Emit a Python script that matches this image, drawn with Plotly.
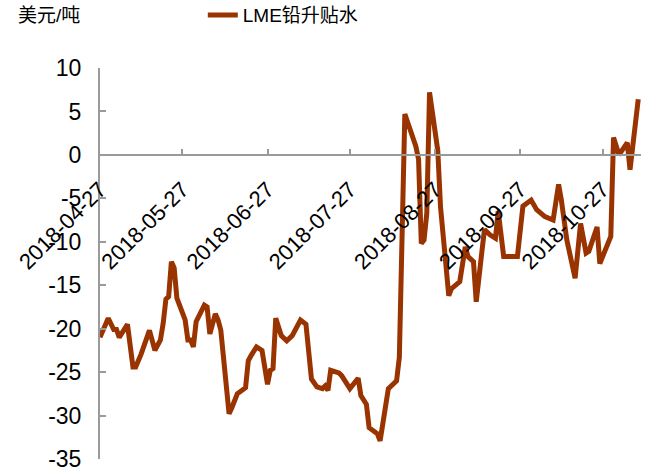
import plotly.graph_objects as go

dates = [
    "2018-04-27", "2018-04-30", "2018-05-02", "2018-05-03", "2018-05-04", "2018-05-07",
    "2018-05-09", "2018-05-10", "2018-05-12", "2018-05-15", "2018-05-17", "2018-05-19",
    "2018-05-20", "2018-05-21", "2018-05-22", "2018-05-23", "2018-05-24", "2018-05-25",
    "2018-05-28", "2018-05-29", "2018-05-30", "2018-05-31", "2018-06-01", "2018-06-04",
    "2018-06-05", "2018-06-06", "2018-06-08", "2018-06-09", "2018-06-10", "2018-06-12",
    "2018-06-13", "2018-06-14", "2018-06-16", "2018-06-19", "2018-06-20", "2018-06-21",
    "2018-06-23", "2018-06-25", "2018-06-27", "2018-06-28", "2018-06-29", "2018-06-30",
    "2018-07-02", "2018-07-04", "2018-07-06", "2018-07-09", "2018-07-11", "2018-07-13",
    "2018-07-15", "2018-07-17", "2018-07-18", "2018-07-19", "2018-07-20", "2018-07-23",
    "2018-07-24", "2018-07-27", "2018-07-30", "2018-07-31", "2018-08-02", "2018-08-03",
    "2018-08-06", "2018-08-07", "2018-08-10", "2018-08-13", "2018-08-14", "2018-08-16",
    "2018-08-18", "2018-08-20", "2018-08-21", "2018-08-22", "2018-08-23", "2018-08-24",
    "2018-08-25", "2018-08-28", "2018-08-29", "2018-08-30", "2018-09-01", "2018-09-02",
    "2018-09-05", "2018-09-07", "2018-09-08", "2018-09-10", "2018-09-11", "2018-09-13",
    "2018-09-14", "2018-09-16", "2018-09-18", "2018-09-19", "2018-09-21", "2018-09-26",
    "2018-09-28", "2018-10-01", "2018-10-03", "2018-10-06", "2018-10-09", "2018-10-11",
    "2018-10-12", "2018-10-14", "2018-10-17", "2018-10-19", "2018-10-21", "2018-10-22",
    "2018-10-25", "2018-10-26", "2018-10-30", "2018-10-31", "2018-11-02", "2018-11-05",
    "2018-11-06", "2018-11-09",
]

values = [
    -21.0, -18.8, -20.1, -20.1, -21.0, -19.5,
    -24.4, -24.4, -22.9, -20.2, -22.5, -21.3,
    -19.4, -16.6, -16.3, -12.3, -13.0, -16.5,
    -19.0, -21.3, -21.3, -22.1, -19.2, -17.3,
    -17.5, -20.6, -18.3, -19.0, -20.2, -27.1,
    -29.8, -29.1, -27.5, -26.8, -23.7, -23.1,
    -22.1, -22.5, -26.4, -24.8, -24.6, -18.8,
    -20.8, -21.4, -20.8, -19.0, -19.5, -25.8,
    -26.7, -26.9, -26.6, -27.1, -24.8, -25.1,
    -25.4, -26.9, -25.7, -27.7, -28.7, -31.4,
    -32.1, -32.9, -26.9, -26.0, -23.3, 4.7,
    2.9, 1.0, -0.5, -10.2, -9.8, -6.7,
    7.2, 0.5, -6.0, -9.0, -16.2, -15.4,
    -14.6, -10.6, -11.7, -12.3, -16.9, -11.3,
    -8.6, -9.2, -9.6, -6.5, -11.7, -11.7,
    -5.9, -5.2, -6.3, -7.1, -7.5, -3.4,
    -5.2, -9.8, -14.2, -7.9, -11.3, -11.1,
    -8.3, -12.5, -9.4, 2.0, 0.0, 1.4,
    -1.7, 6.4,
]

tick_dates = ["2018-04-27", "2018-05-27", "2018-06-27", "2018-07-27",
              "2018-08-27", "2018-09-27", "2018-10-27"]
tick_labels = tick_dates
y_tick_vals = [10, 5, 0, -5, -10, -15, -20, -25, -30, -35]
y_tick_labels = ["10", "5", "0", "-5", "-10", "-15", "-20", "-25", "-30", "-35"]
series_name = "LME铅升贴水"
unit_label = "美元/吨"

y_min, y_max = -35, 10
axis_gray = "#9a9a9a"
line_color = "#993300"
font_family = "Liberation Sans, Arial, Noto Sans CJK SC, sans-serif"

fig = go.Figure()
fig.add_trace(go.Scatter(
    x=dates, y=values, mode="lines", name=series_name,
    line=dict(color=line_color, width=5),
))

fig.update_layout(
    width=650, height=475,
    margin=dict(l=100, r=9, t=68, b=16, autoexpand=False),
    paper_bgcolor="white", plot_bgcolor="white",
    font=dict(family=font_family, size=21, color="black"),
    showlegend=True,
    legend=dict(x=0.312, y=0.968, xref="container", yref="container",
                xanchor="left", yanchor="middle",
                orientation="h", font=dict(size=19),
                bgcolor="rgba(0,0,0,0)"),
    xaxis=dict(
        type="date",
        range=["2018-04-27", "2018-11-10"],
        tickmode="array", tickvals=tick_dates, ticktext=tick_labels,
        tickangle=-45,
        ticks="inside", ticklen=5, tickwidth=1.5, tickcolor=axis_gray,
        showline=True, linecolor=axis_gray, linewidth=2,
        showgrid=False, zeroline=False, automargin=False,
        anchor="free", position=(0 - y_min) / (y_max - y_min),
        tickfont=dict(size=22),
        ticklabelstandoff=12,
    ),
    yaxis=dict(
        range=[y_min, y_max],
        tickmode="array", tickvals=y_tick_vals, ticktext=y_tick_labels,
        ticks="inside", ticklen=6, tickwidth=1.5, tickcolor=axis_gray,
        showline=True, linecolor=axis_gray, linewidth=2,
        showgrid=False, zeroline=False, automargin=False,
        tickfont=dict(size=23),
        ticklabelstandoff=12,
    ),
    annotations=[dict(
        text=unit_label, xref="paper", yref="paper",
        x=-0.155, y=1.133, xanchor="left", yanchor="middle",
        showarrow=False, font=dict(size=19),
    )],
)

fig.write_html("out.html")
